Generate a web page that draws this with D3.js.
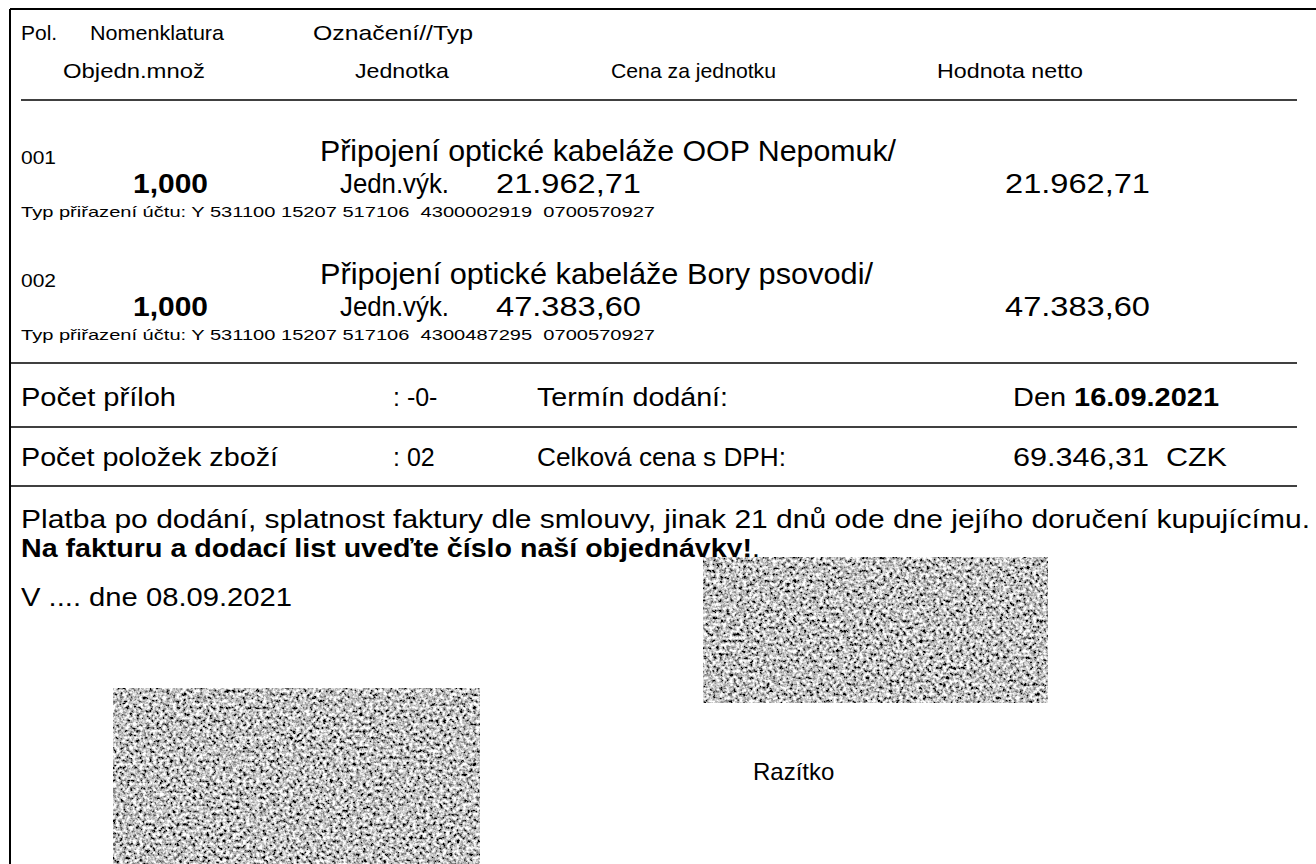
<!DOCTYPE html>
<html><head><meta charset="utf-8">
<script src="https://cdn.jsdelivr.net/npm/d3@7"></script>
<style>
html,body{margin:0;padding:0;background:#fff;}
svg{display:block;}
text{font-family:"Liberation Sans",Arial,sans-serif;fill:#000;}
</style></head>
<body>
<script>
// ---- data ----
const headerRow1 = ["Pol.", "Nomenklatura", "Označení//Typ"];
const headerRow2 = ["Objedn.množ", "Jednotka", "Cena za jednotku", "Hodnota netto"];
const itemPos = ["001", "002"];
const itemDesc = ["Připojení optické kabeláže OOP Nepomuk/", "Připojení optické kabeláže Bory psovodi/"];
const itemQty = ["1,000", "1,000"];
const itemUnit = ["Jedn.výk.", "Jedn.výk."];
const itemPrice = [21962.71, 47383.60];
const itemValue = [21962.71, 47383.60];
const itemAccount = [
  "Typ přiřazení účtu: Y 531100 15207 517106  4300002919  0700570927",
  "Typ přiřazení účtu: Y 531100 15207 517106  4300487295  0700570927"
];
const summaryLabels = ["Počet příloh", "Počet položek zboží"];
const summaryCounts = [": -0-", ": 02"];
const summaryKeys = ["Termín dodání:", "Celková cena s DPH:"];
const deliveryDate = "16.09.2021";
const totalPrice = 69346.31;
const currency = "CZK";
const noteLines = [
  "Platba po dodání, splatnost faktury dle smlouvy, jinak 21 dnů ode dne jejího doručení kupujícímu.",
  "Na fakturu a dodací list uveďte číslo naší objednávky!"
];
const placeDate = "V .... dne 08.09.2021";
const stampLabel = "Razítko";

// ---- formatting (Czech style: 21.962,71) ----
const czLocale = d3.formatLocale({decimal: ",", thousands: ".", grouping: [3], currency: ["", ""]});
const fmt = czLocale.format(",.2f");

const W = 1316, H = 864;
const svg = d3.select("body").append("svg").attr("width", W).attr("height", H);

// noise filter for redacted areas
const defs = svg.append("defs");
const f = defs.append("filter").attr("id", "noise").attr("x", 0).attr("y", 0).attr("width", "100%").attr("height", "100%");
f.append("feTurbulence").attr("type", "fractalNoise").attr("baseFrequency", 0.3).attr("numOctaves", 3).attr("seed", 7).attr("result", "t");
f.append("feColorMatrix").attr("in", "t").attr("type", "matrix").attr("result", "g")
  .attr("values", "2.4 0 0 0 -0.66  2.4 0 0 0 -0.66  2.4 0 0 0 -0.66  0 0 0 0 1");
f.append("feGaussianBlur").attr("in", "g").attr("stdDeviation", 0.5);

// frame
svg.append("line").attr("x1", 10).attr("x2", W).attr("y1", 9).attr("y2", 9).attr("stroke", "#000").attr("stroke-width", 2);
svg.append("line").attr("x1", 10).attr("x2", 10).attr("y1", 9).attr("y2", H).attr("stroke", "#000").attr("stroke-width", 2);

function txt(x, y, s, size, len, weight) {
  const t = svg.append("text").attr("x", x).attr("y", y).attr("font-size", size)
    .attr("font-weight", weight || "normal").style("white-space", "pre").text(s);
  if (len) t.attr("textLength", len).attr("lengthAdjust", "spacingAndGlyphs");
  return t;
}
function hline(y, x1, x2) {
  svg.append("line").attr("x1", x1).attr("x2", x2).attr("y1", y).attr("y2", y).attr("stroke", "#000").attr("stroke-width", 1.4);
}

// header
const h1x = [21, 90, 313], h1w = [null, 134, 160];
headerRow1.forEach((s, i) => txt(h1x[i], 40, s, 21, h1w[i]));
const h2x = [63, 355, 611, 937], h2w = [142, 94, 165, 146];
headerRow2.forEach((s, i) => txt(h2x[i], 78, s, 21, h2w[i]));
hline(100, 21, 1297);

// items
const itemY = [161, 284];
const descW = [576, 553];
itemPos.forEach((p, i) => {
  const y = itemY[i];
  txt(21, y + 3, p, 18, 35);
  txt(320, y, itemDesc[i], 29, descW[i]);
  txt(133, y + 32, itemQty[i], 27, 75, "bold");
  txt(340, y + 32, itemUnit[i], 27, 109);
  txt(496, y + 32, fmt(itemPrice[i]), 27, 145);
  txt(1005, y + 32, fmt(itemValue[i]), 27, 145);
  txt(21, y + 56, itemAccount[i], 15, 634);
});

// summary rows
hline(363, 10, 1297);
const sumY = [406, 466];
const labW = [155, 257], keyW = [191, 249];
summaryLabels.forEach((s, i) => {
  txt(21, sumY[i], s, 26, labW[i]);
  txt(393, sumY[i], summaryCounts[i], 25);
  txt(537, sumY[i], summaryKeys[i], 26, keyW[i]);
});
const d = txt(1013, sumY[0], "Den ", 26, 206);
d.append("tspan").attr("font-weight", "bold").text(deliveryDate);
txt(1013, sumY[1], fmt(totalPrice) + "  " + currency, 26, 214);
hline(427, 10, 1297);
hline(486, 10, 1297);

// notes
txt(21, 528, noteLines[0], 26, 1289);
const n2 = txt(21, 557, noteLines[1], 26, 739, "bold");
n2.append("tspan").attr("font-weight", "normal").text(".");

txt(21, 606, placeDate, 25, 271);

// redacted signature/stamp areas
svg.append("rect").attr("x", 703).attr("y", 557).attr("width", 345).attr("height", 146).attr("filter", "url(#noise)");
svg.append("rect").attr("x", 113).attr("y", 688).attr("width", 367).attr("height", 176).attr("filter", "url(#noise)");

txt(753, 780, stampLabel, 24);
</script>
</body></html>
